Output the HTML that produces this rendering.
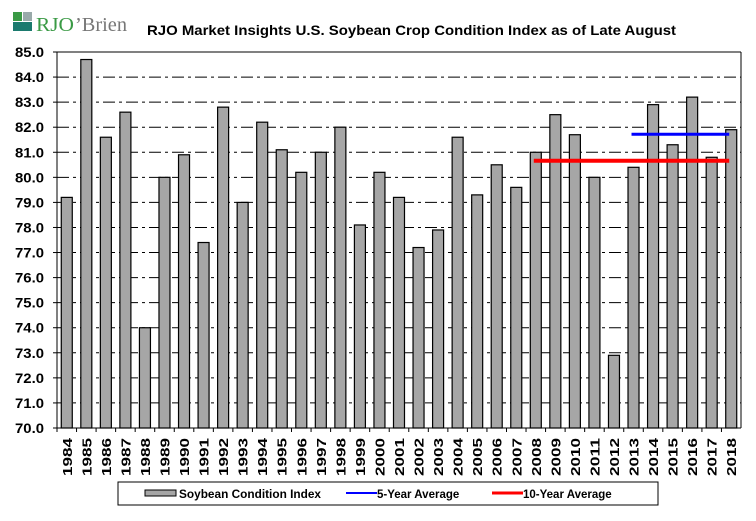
<!DOCTYPE html>
<html><head><meta charset="utf-8"><style>
body{margin:0;background:#fff;width:756px;height:516px;overflow:hidden;font-family:"Liberation Sans",Arial,sans-serif}
</style></head><body>
<svg id="chart" width="756" height="516" xmlns="http://www.w3.org/2000/svg">
<g>
<rect x="13" y="12" width="9" height="9" fill="#3a9a45"/><rect x="23" y="12" width="9" height="9" fill="#9aa"/>
<rect x="13" y="22" width="19" height="9" fill="#1b7a6e"/>
<text x="36" y="31" font-size="20" fill="#3a9a45" font-family="Liberation Serif,serif" textLength="38" lengthAdjust="spacingAndGlyphs">RJO</text>
<text x="75" y="31" font-size="20" fill="#777" font-family="Liberation Serif,serif" textLength="52" lengthAdjust="spacingAndGlyphs">’Brien</text>
</g>
<text x="147" y="35" font-size="14" font-weight="bold" textLength="529" lengthAdjust="spacingAndGlyphs">RJO Market Insights U.S. Soybean Crop Condition Index as of Late August</text>
<g id="grid"></g><g id="bars"></g><g id="lines"></g><g id="axes"></g>
<g>
<rect x="118" y="482" width="540" height="23" fill="#fff" stroke="#000"/>
<rect x="145" y="490" width="31" height="6" fill="#a6a6a6" stroke="#000"/>
<text x="179" y="498" font-size="11.5" font-weight="bold" textLength="142" lengthAdjust="spacingAndGlyphs">Soybean Condition Index</text>
<line x1="346" y1="493" x2="377" y2="493" stroke="#0000ff" stroke-width="2"/>
<text x="377" y="498" font-size="11.5" font-weight="bold">5-Year Average</text>
<line x1="492" y1="493" x2="523" y2="493" stroke="#ff0000" stroke-width="3"/>
<text x="523" y="498" font-size="11.5" font-weight="bold">10-Year Average</text>
</g>
</svg>
<script>
const years=[1984,1985,1986,1987,1988,1989,1990,1991,1992,1993,1994,1995,1996,1997,1998,1999,2000,2001,2002,2003,2004,2005,2006,2007,2008,2009,2010,2011,2012,2013,2014,2015,2016,2017,2018];
const values=[79.2,84.7,81.6,82.6,74.0,80.0,80.9,77.4,82.8,79.0,82.2,81.1,80.2,81.0,82.0,78.1,80.2,79.2,77.2,77.9,81.6,79.3,80.5,79.6,81.0,82.5,81.7,80.0,72.9,80.4,82.9,81.3,83.2,80.8,81.9];
const avg5=[81.72];const avg5Range=[2013,2018];
const avg10=[80.66];const avg10Range=[2008,2018];
const yTicks=[70,71,72,73,74,75,76,77,78,79,80,81,82,83,84,85];
const NS="http://www.w3.org/2000/svg";
const L=57,R=741,T=52,B=428,yMin=70,yMax=85;
const bw=(R-L)/years.length;
const y=v=>B-(v-yMin)/(yMax-yMin)*(B-T);
const xc=i=>L+(i+0.5)*bw;
function mk(t,a,p){const e=document.createElementNS(NS,t);for(const k in a)e.setAttribute(k,a[k]);p.appendChild(e);return e;}
const grid=document.getElementById('grid'),bars=document.getElementById('bars'),lines=document.getElementById('lines'),axes=document.getElementById('axes');
yTicks.forEach(v=>{
 if(v>yMin&&v<yMax){const g=mk('line',{x1:L,x2:R,y1:y(v),y2:y(v),stroke:'#000','stroke-dasharray':'12,4,3,4'},grid);
 
 }
 mk('line',{x1:L-4,x2:L,y1:y(v),y2:y(v),stroke:'#000'},axes);
 const t=mk('text',{x:L-13,y:y(v)+5,'text-anchor':'end','font-size':'14','font-weight':'bold',textLength:'29',lengthAdjust:'spacingAndGlyphs'},axes);
 t.textContent=v.toFixed(1);
 
 
});
values.forEach((v,i)=>{
 const r=mk('rect',{x:xc(i)-5.5,y:y(v),width:11,height:B-y(v),fill:'#a6a6a6',stroke:'#000','stroke-width':'1.2'},bars);
 
 
 mk('line',{x1:L+i*bw,x2:L+i*bw,y1:B,y2:B+4,stroke:'#000'},axes);
 const t=mk('text',{transform:`translate(${xc(i)+5},${B+48}) rotate(-90)`,'font-size':'13','font-weight':'bold',textLength:'38',lengthAdjust:'spacingAndGlyphs'},axes);
 t.textContent=years[i];
 
 
});
function avgLine(val,rng,col,w,name){
 const i0=years.indexOf(rng[0]),i1=years.indexOf(rng[1]);
 const l=mk('line',{x1:xc(i0)-2,x2:xc(i1)-2,y1:y(val),y2:y(val),stroke:col,'stroke-width':w},lines);
 
 
}
avgLine(avg10[0],avg10Range,'#ff0000',4,'ten-year-average-line');
avgLine(avg5[0],avg5Range,'#0000ff',3,'five-year-average-line');
mk('line',{x1:L,x2:R,y1:T,y2:T,stroke:'#000'},axes);
mk('line',{x1:L,x2:R,y1:B,y2:B,stroke:'#000'},axes);
mk('line',{x1:L,x2:L,y1:T,y2:B,stroke:'#000'},axes);
mk('line',{x1:R,x2:R,y1:T,y2:B,stroke:'#000'},axes);
</script>
</body></html>
